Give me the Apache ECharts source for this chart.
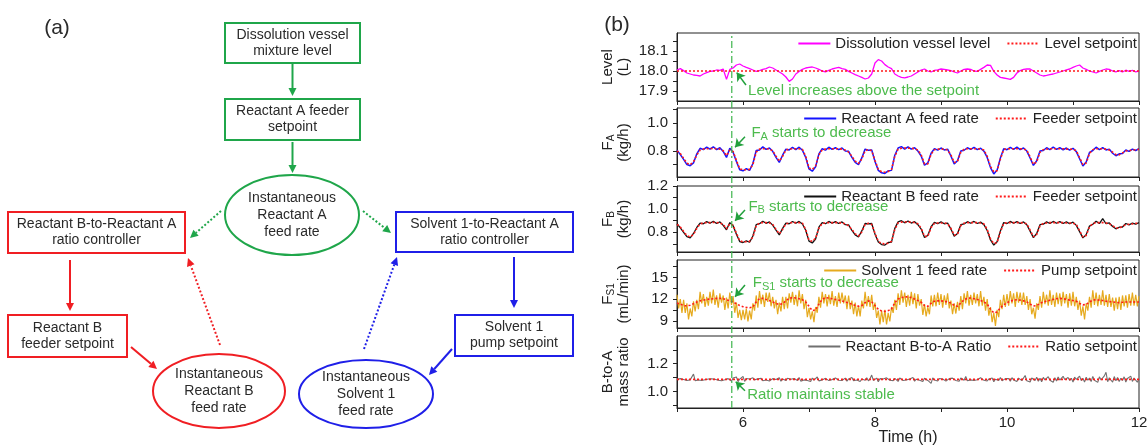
<!DOCTYPE html>
<html>
<head>
<meta charset="utf-8">
<title>Feed control and ratio control</title>
<script src="https://cdn.jsdelivr.net/npm/echarts@6.0.0/dist/echarts.min.js"></script>
<style>
  html, body { margin: 0; padding: 0; background: #fff; }
  #chart { width: 1148px; height: 445px; }
</style>
</head>
<body>
<div id="chart"></div>
<script>
// ---------- data (time in h) ----------
const T0 = 5;
const DT = 0.05;      // most series: one value every 0.05 h
const DT_FINE = 0.025; // the two noisy series

// dissolution vessel level (L)
const levelVals = [
  18.005,18.012,18.002,17.990,17.985,17.980,17.978,17.975,17.985,17.992,
  17.998,18.000,18.005,18.003,18.010,17.958,18.008,18.015,18.030,18.035,
  18.025,18.018,18.012,18.005,17.998,18.002,18.008,18.012,18.020,18.015,
  18.005,17.995,17.985,17.970,17.948,17.960,17.985,17.998,18.008,18.015,
  18.018,18.020,18.015,18.008,18.000,17.996,18.003,18.010,18.014,18.018,
  18.012,18.008,17.998,17.990,17.982,17.975,17.968,17.960,17.965,17.985,
  18.040,18.057,18.050,18.032,18.020,18.012,17.985,17.975,17.968,17.966,
  17.970,17.975,17.985,17.995,18.005,18.010,18.000,17.995,18.003,18.006,
  18.010,18.008,18.005,18.002,17.995,17.990,18.000,18.008,18.010,18.008,
  18.000,17.998,18.008,18.018,18.030,18.028,17.998,17.980,17.968,17.965,
  17.962,17.958,17.968,17.990,18.002,18.008,18.010,18.010,18.000,17.990,
  17.980,17.975,17.978,17.982,17.985,17.990,17.995,18.000,18.006,18.010,
  18.018,18.025,18.030,18.015,18.008,18.000,17.995,17.990,17.998,18.005,
  18.010,18.008,18.000,17.996,18.002,17.995,18.004,17.998,18.003,17.996,
  18.000
];
const levelSetpoint = [[5, 18.0], [12, 18.0]];

// reactant A feed rate (kg/h)
const faVals = [
  0.805,0.772,0.738,0.700,0.692,0.712,0.778,0.818,0.808,0.826,
  0.812,0.829,0.808,0.822,0.795,0.752,0.818,0.790,0.722,0.662,
  0.655,0.670,0.658,0.708,0.802,0.806,0.828,0.810,0.820,0.796,
  0.752,0.716,0.768,0.812,0.806,0.824,0.809,0.826,0.804,0.752,
  0.668,0.652,0.684,0.778,0.815,0.805,0.826,0.810,0.822,0.808,
  0.820,0.798,0.796,0.752,0.716,0.700,0.748,0.812,0.804,0.806,
  0.722,0.658,0.640,0.636,0.655,0.658,0.768,0.820,0.830,0.812,
  0.828,0.812,0.822,0.798,0.762,0.696,0.712,0.782,0.816,0.805,
  0.820,0.806,0.812,0.762,0.705,0.728,0.798,0.804,0.822,0.810,
  0.824,0.808,0.818,0.798,0.752,0.678,0.632,0.660,0.748,0.815,
  0.808,0.824,0.810,0.826,0.808,0.820,0.798,0.748,0.694,0.728,
  0.798,0.802,0.822,0.808,0.826,0.810,0.822,0.806,0.820,0.805,
  0.818,0.794,0.742,0.690,0.718,0.788,0.802,0.826,0.808,0.822,
  0.806,0.812,0.782,0.764,0.778,0.780,0.806,0.796,0.812,0.802,
  0.815
];
const faSetpoint = [
  0.800,0.780,0.745,0.710,0.700,0.720,0.770,0.805,0.812,0.815,
  0.815,0.817,0.815,0.812,0.800,0.765,0.805,0.795,0.730,0.670,
  0.662,0.662,0.665,0.700,0.790,0.812,0.815,0.815,0.812,0.800,
  0.760,0.725,0.760,0.805,0.812,0.815,0.815,0.815,0.810,0.760,
  0.675,0.665,0.690,0.770,0.808,0.812,0.815,0.815,0.815,0.815,
  0.812,0.805,0.790,0.760,0.725,0.708,0.740,0.800,0.810,0.800,
  0.730,0.665,0.648,0.645,0.650,0.665,0.760,0.812,0.818,0.820,
  0.818,0.818,0.815,0.805,0.770,0.705,0.705,0.775,0.808,0.812,
  0.812,0.812,0.805,0.770,0.715,0.722,0.790,0.810,0.815,0.815,
  0.815,0.815,0.812,0.805,0.760,0.685,0.648,0.655,0.740,0.808,
  0.815,0.815,0.815,0.815,0.815,0.812,0.805,0.755,0.702,0.720,
  0.790,0.808,0.812,0.815,0.815,0.815,0.815,0.815,0.812,0.812,
  0.810,0.800,0.750,0.700,0.712,0.780,0.808,0.815,0.815,0.815,
  0.812,0.805,0.790,0.772,0.770,0.785,0.798,0.802,0.805,0.808,
  0.810
];

// reactant B feed rate (kg/h)
const fbVals = [
  0.874,0.838,0.800,0.762,0.752,0.790,0.842,0.880,0.874,0.892,
  0.878,0.895,0.876,0.890,0.860,0.822,0.884,0.856,0.784,0.720,
  0.712,0.726,0.714,0.768,0.866,0.874,0.896,0.878,0.890,0.862,
  0.818,0.778,0.834,0.880,0.874,0.893,0.878,0.894,0.872,0.818,
  0.724,0.708,0.742,0.844,0.884,0.874,0.894,0.878,0.892,0.876,
  0.890,0.866,0.864,0.816,0.778,0.760,0.812,0.876,0.872,0.876,
  0.784,0.716,0.694,0.690,0.712,0.716,0.834,0.890,0.900,0.882,
  0.898,0.880,0.892,0.866,0.828,0.756,0.772,0.848,0.886,0.874,
  0.890,0.874,0.880,0.828,0.766,0.790,0.866,0.872,0.892,0.878,
  0.894,0.876,0.888,0.866,0.816,0.734,0.690,0.718,0.812,0.884,
  0.876,0.894,0.878,0.892,0.876,0.890,0.866,0.810,0.754,0.790,
  0.866,0.870,0.890,0.876,0.894,0.878,0.892,0.876,0.890,0.874,
  0.888,0.860,0.806,0.752,0.780,0.854,0.870,0.896,0.876,0.918,
  0.874,0.882,0.850,0.830,0.844,0.846,0.876,0.864,0.880,0.870,
  0.884
];
const fbSetpoint = [
  0.868,0.846,0.808,0.770,0.760,0.781,0.835,0.873,0.881,0.884,
  0.884,0.886,0.884,0.881,0.868,0.830,0.873,0.862,0.792,0.727,
  0.718,0.718,0.722,0.760,0.857,0.881,0.884,0.884,0.881,0.868,
  0.825,0.787,0.825,0.873,0.881,0.884,0.884,0.884,0.879,0.825,
  0.732,0.722,0.749,0.835,0.877,0.881,0.884,0.884,0.884,0.884,
  0.881,0.873,0.857,0.825,0.787,0.768,0.803,0.868,0.879,0.868,
  0.792,0.722,0.703,0.700,0.705,0.722,0.825,0.881,0.888,0.890,
  0.888,0.888,0.884,0.873,0.835,0.765,0.765,0.841,0.877,0.881,
  0.881,0.881,0.873,0.835,0.776,0.783,0.857,0.879,0.884,0.884,
  0.884,0.884,0.881,0.873,0.825,0.743,0.703,0.711,0.803,0.877,
  0.884,0.884,0.884,0.884,0.884,0.881,0.873,0.819,0.762,0.781,
  0.857,0.877,0.881,0.884,0.884,0.884,0.884,0.884,0.881,0.881,
  0.879,0.868,0.814,0.760,0.773,0.846,0.877,0.884,0.884,0.884,
  0.881,0.873,0.857,0.838,0.835,0.852,0.866,0.870,0.873,0.877,
  0.879
];

// solvent 1 feed rate (mL/min), every 0.025 h
const fs1Vals = [
  12.6,10.7,12.0,10.1,11.9,10.1,11.4,9.2,10.7,9.6,
  11.7,10.3,11.9,10.6,13.0,11.4,12.7,10.9,12.3,11.1,
  13.0,11.4,13.3,11.2,12.5,10.8,12.8,11.5,12.5,10.5,
  12.2,10.7,12.9,11.2,12.4,10.1,11.5,9.4,10.5,9.1,
  10.5,9.2,10.7,8.9,10.4,9.2,11.4,10.4,12.5,10.8,
  13.1,11.3,12.6,10.9,12.9,11.6,12.9,11.0,12.3,10.7,
  11.9,9.9,11.5,10.3,12.3,10.6,12.3,10.7,12.8,11.5,
  13.0,11.2,12.6,11.0,13.2,11.4,12.7,10.6,11.9,9.5,
  10.8,9.2,10.3,8.8,10.9,10.1,12.3,10.8,13.0,11.4,
  12.7,11.0,12.6,11.3,13.1,11.1,12.4,10.9,12.9,11.4,
  12.9,11.4,12.5,10.6,12.5,10.6,11.8,9.9,11.5,9.6,
  11.1,9.6,11.8,10.7,13.0,11.0,12.4,10.9,12.6,10.5,
  11.5,9.4,10.4,8.5,10.4,8.8,10.5,8.5,10.1,8.9,
  10.9,10.1,11.9,10.5,12.8,11.2,13.2,11.5,12.9,10.9,
  12.6,11.1,13.0,11.3,12.8,10.7,12.7,11.1,12.0,9.8,
  11.3,9.6,10.9,9.9,12.5,11.0,12.6,11.0,12.9,11.2,
  12.7,10.8,12.5,11.2,12.8,10.7,11.8,9.9,11.4,10.0,
  11.6,10.4,12.4,10.6,12.8,11.4,13.1,11.1,12.6,11.2,
  12.9,11.4,12.7,11.0,13.1,11.1,12.3,10.4,12.0,9.7,
  10.9,8.8,10.1,8.3,10.5,9.5,11.9,10.6,12.6,10.9,
  12.7,11.1,13.1,11.4,12.8,10.9,13.0,11.5,12.9,11.2,
  12.9,11.2,12.4,10.5,12.0,9.9,10.8,9.3,11.4,10.5,
  12.4,10.8,13.0,11.3,12.6,11.1,13.2,11.2,12.6,10.9,
  12.9,11.3,12.8,11.0,13.0,11.4,12.7,10.8,12.8,11.1,
  13.0,11.0,12.3,10.5,11.8,9.7,11.0,9.2,11.4,10.4,
  12.3,10.8,13.2,11.2,12.9,11.0,12.6,11.2,13.2,11.1,
  12.6,10.9,12.7,10.9,12.2,10.4,12.2,10.6,12.3,10.5,
  12.5,11.0,12.5,10.8,12.7,11.1,12.9,11.1,12.6,11.0,
  12.4
];
const fs1Setpoint = [
  11.45,11.3,11.1,11.05,11.15,11.35,11.6,11.75,11.85,11.95,
  12.0,12.05,12.1,12.1,12.05,11.9,11.75,11.6,11.35,11.1,
  10.95,10.85,10.8,10.9,11.6,12.05,12.1,11.95,11.8,11.6,
  11.4,11.25,11.35,11.75,12.1,12.2,12.15,12.05,11.9,11.6,
  11.0,10.4,10.5,11.3,11.95,12.2,12.15,12.05,11.95,11.85,
  11.75,11.6,11.45,11.3,11.1,11.0,11.1,11.5,11.75,11.6,
  11.1,10.6,10.35,10.3,10.4,10.6,11.5,12.0,12.2,12.3,
  12.3,12.2,12.0,11.8,11.55,11.1,11.0,11.4,11.7,11.75,
  11.75,11.7,11.6,11.45,11.1,11.0,11.45,11.9,12.1,12.15,
  12.05,11.95,11.8,11.6,11.3,10.6,10.1,10.2,10.8,11.2,
  11.5,11.7,11.85,11.9,11.85,11.75,11.6,11.3,11.05,11.1,
  11.4,11.6,11.7,11.85,11.95,12.05,12.1,12.05,11.95,11.85,
  11.8,11.7,11.4,11.2,11.25,11.6,11.85,11.9,11.85,11.8,
  11.7,11.65,11.6,11.55,11.5,11.55,11.6,11.6,11.6,11.6,
  11.6
];

// reactant B-to-A mass ratio, every 0.025 h
const ratioVals = [
  1.088,1.080,1.092,1.078,1.086,1.094,1.079,1.087,1.083,1.091,
  1.125,1.078,1.090,1.082,1.087,1.079,1.093,1.084,1.080,1.089,
  1.083,1.091,1.078,1.088,1.095,1.080,1.086,1.077,1.090,1.084,
  1.079,1.092,1.085,1.074,1.096,1.083,1.104,1.070,1.089,1.081,
  1.108,1.072,1.093,1.080,1.090,1.076,1.098,1.083,1.079,1.091,
  1.084,1.094,1.077,1.089,1.082,1.096,1.075,1.088,1.092,1.079,
  1.086,1.080,1.099,1.073,1.090,1.084,1.078,1.095,1.082,1.088,
  1.077,1.093,1.085,1.079,1.101,1.074,1.088,1.083,1.092,1.078,
  1.090,1.072,1.096,1.081,1.087,1.104,1.076,1.090,1.083,1.079,
  1.094,1.082,1.078,1.091,1.085,1.073,1.097,1.086,1.080,1.092,
  1.079,1.088,1.096,1.074,1.090,1.083,1.100,1.077,1.087,1.082,
  1.093,1.071,1.089,1.085,1.080,1.098,1.076,1.091,1.118,1.079,
  1.087,1.096,1.070,1.092,1.081,1.089,1.075,1.098,1.084,1.080,
  1.091,1.078,1.094,1.083,1.072,1.097,1.085,1.079,1.093,1.082,
  1.076,1.090,1.084,1.101,1.073,1.088,1.094,1.080,1.086,1.071,
  1.095,1.083,1.079,1.092,1.058,1.097,1.082,1.088,1.075,1.093,
  1.081,1.089,1.100,1.074,1.086,1.092,1.078,1.096,1.083,1.079,
  1.090,1.073,1.097,1.085,1.080,1.108,1.077,1.089,1.083,1.094,
  1.078,1.091,1.084,1.072,1.099,1.086,1.080,1.093,1.075,1.090,
  1.083,1.097,1.070,1.088,1.094,1.079,1.101,1.076,1.087,1.092,
  1.080,1.093,1.074,1.099,1.083,1.089,1.072,1.096,1.085,1.078,
  1.092,1.115,1.077,1.090,1.068,1.097,1.084,1.079,1.102,1.073,
  1.094,1.070,1.101,1.083,1.076,1.106,1.080,1.092,1.066,1.099,
  1.075,1.104,1.082,1.068,1.109,1.085,1.073,1.100,1.079,1.095,
  1.068,1.103,1.086,1.074,1.110,1.078,1.095,1.067,1.102,1.081,
  1.096,1.071,1.108,1.080,1.092,1.065,1.105,1.083,1.074,1.112,
  1.138,1.070,1.098,1.082,1.067,1.107,1.076,1.100,1.071,1.094,
  1.079,1.105,1.068,1.093,1.087,1.110,1.072,1.097,1.081,1.066,
  1.090
];
const ratioSetpoint = [[5, 1.087], [12, 1.087]];

// moment the disturbance starts (green dash-dot line)
const eventLine = [[5.83, 0], [5.83, 1]];

// axis ticks and labels
const xTicks = [5, 6, 7, 8, 9, 10, 11, 12];
const xLabels = [6, 8, 10, 12];
const levelTicks = [17.9, 17.95, 18.0, 18.05, 18.1, 18.15];
const levelLabels = [17.9, 18.0, 18.1];
const faTicks = [0.7, 0.8, 0.9, 1.0, 1.1];
const faLabels = [0.8, 1.0];
const fbTicks = [0.7, 0.8, 0.9, 1.0, 1.1, 1.2];
const fbLabels = [0.8, 1.0, 1.2];
const fs1Ticks = [9, 10.5, 12, 13.5, 15, 16.5];
const fs1Labels = [9, 12, 15];
const ratioTicks = [0.9, 1.0, 1.1, 1.2, 1.3];
const ratioLabels = [1.0, 1.2];

// ---------- styling / layout ----------
const FONT = 'Liberation Sans, Arial, Helvetica, sans-serif';
const INK = '#222';
const SP_RED = '#ff1a1a';
const NOTE_GREEN = '#4dbb4d';
const ARROW_GREEN = '#22a03c';

const toPairs = (vals, step) => vals.map((v, i) => [+(T0 + i * step).toFixed(3), v]);

const nameRich = {
  n: { fontSize: 15, color: INK, fontFamily: FONT, lineHeight: 16 },
  s: { fontSize: 10, color: INK, fontFamily: FONT, lineHeight: 10, verticalAlign: 'bottom' }
};
const noteRich = {
  g: { fontSize: 15, color: NOTE_GREEN, fontFamily: FONT, lineHeight: 18 },
  gs: { fontSize: 11, color: NOTE_GREEN, fontFamily: FONT, lineHeight: 11, verticalAlign: 'bottom' }
};

const panels = [
  { top: 33, height: 68, min: 17.85, max: 18.19, ticks: levelTicks, labels: levelLabels, digits: 1,
    name: '{n|Level}\n{n|(L)}', legend: ['Dissolution vessel level', 'Level setpoint'] },
  { top: 108, height: 69, min: 0.61, max: 1.11, ticks: faTicks, labels: faLabels, digits: 1,
    name: '{n|F}{s|A}\n{n|(kg/h)}', legend: ['Reactant A feed rate', 'Feeder setpoint'] },
  { top: 186, height: 66, min: 0.63, max: 1.2, ticks: fbTicks, labels: fbLabels, digits: 1,
    name: '{n|F}{s|B}\n{n|(kg/h)}', legend: ['Reactant B feed rate', 'Feeder setpoint'] },
  { top: 260, height: 68, min: 8, max: 17.4, ticks: fs1Ticks, labels: fs1Labels, digits: 0,
    name: '{n|F}{s|S1}\n{n|(mL/min)}', legend: ['Solvent 1 feed rate', 'Pump setpoint'] },
  { top: 336, height: 72, min: 0.88, max: 1.4, ticks: ratioTicks, labels: ratioLabels, digits: 1,
    name: '{n|B-to-A}\n{n|mass ratio}', legend: ['Reactant B-to-A Ratio', 'Ratio setpoint'] }
];
const PLOT_LEFT = 677;
const PLOT_RIGHT = 9;

// text annotations, in data units of each panel
const notes = [
  { text: '{g|Level increases above the setpoint}', at: [6.07, 17.90], from: [6.045, 17.93], to: [5.905, 17.992] },
  { text: '{g|F}{gs|A}{g| starts to decrease}', at: [6.12, 0.929], from: [6.03, 0.902], to: [5.88, 0.825] },
  { text: '{g|F}{gs|B}{g| starts to decrease}', at: [6.075, 1.021], from: [6.03, 0.993], to: [5.88, 0.90] },
  { text: '{g|F}{gs|S1}{g| starts to decrease}', at: [6.14, 14.18], from: [6.03, 13.94], to: [5.88, 12.33] },
  { text: '{g|Ratio maintains stable}', at: [6.056, 0.974], from: [6.03, 1.005], to: [5.89, 1.07] }
];

function line(name, gi, data, color, width, dotted, z) {
  return {
    name: name, type: 'line', xAxisIndex: gi, yAxisIndex: gi, data: data,
    symbol: 'none', showSymbol: false, sampling: null, z: z || 2,
    lineStyle: { color: color, width: width, type: dotted ? [2, 2] : 'solid' },
    itemStyle: { color: color },
    emphasis: { disabled: true }, silent: true
  };
}

function withNote(s, n) {
  s.markLine = {
    silent: true, symbol: ['none', 'arrow'], symbolSize: 8, animation: false,
    label: { show: false },
    lineStyle: { color: ARROW_GREEN, width: 1.5, type: 'solid' },
    emphasis: { disabled: true },
    data: [[{ coord: n.from }, { coord: n.to }]]
  };
  s.markPoint = {
    silent: true, animation: false,
    data: [{ coord: n.at, symbol: 'circle', symbolSize: 1, itemStyle: { color: 'rgba(0,0,0,0)' } }],
    label: { show: true, position: 'right', distance: 0, formatter: n.text, rich: noteRich }
  };
  return s;
}

const series = [
  line('Dissolution vessel level', 0, toPairs(levelVals, DT), '#ff00ff', 1.3),
  withNote(line('Level setpoint', 0, levelSetpoint, SP_RED, 1.6, true, 3), notes[0]),
  line('Reactant A feed rate', 1, toPairs(faVals, DT), '#1414ff', 1.5),
  withNote(line('Feeder setpoint', 1, toPairs(faSetpoint, DT), SP_RED, 1.6, true, 3), notes[1]),
  line('Reactant B feed rate', 2, toPairs(fbVals, DT), '#111', 1.3),
  withNote(line('Feeder setpoint', 2, toPairs(fbSetpoint, DT), SP_RED, 1.6, true, 3), notes[2]),
  line('Solvent 1 feed rate', 3, toPairs(fs1Vals, DT_FINE), '#e6aa1e', 1.2),
  withNote(line('Pump setpoint', 3, toPairs(fs1Setpoint, DT), SP_RED, 1.6, true, 3), notes[3]),
  line('Reactant B-to-A Ratio', 4, toPairs(ratioVals, DT_FINE), '#707070', 1.1),
  withNote(line('Ratio setpoint', 4, ratioSetpoint, SP_RED, 1.6, true, 3), notes[4]),
  {
    type: 'line', xAxisIndex: 5, yAxisIndex: 5, data: eventLine, symbol: 'none', silent: true, z: 4,
    lineStyle: { color: '#3cb44b', width: 1.2, type: [7, 3, 2, 3] }
  }
];

const grids = panels.map(p => ({
  left: PLOT_LEFT, right: PLOT_RIGHT, top: p.top, height: p.height,
  show: true, borderColor: INK, borderWidth: 1, backgroundColor: 'transparent',
  containLabel: false, outerBoundsMode: 'none'
}));
grids.push({ left: PLOT_LEFT, right: PLOT_RIGHT, top: 33, height: 375, show: false, containLabel: false, outerBoundsMode: 'none' });

const xAxes = panels.map((p, i) => ({
  gridIndex: i, type: 'value', min: 5, max: 12,
  axisLine: { show: true, onZero: false, lineStyle: { color: INK, width: 1 } },
  axisTick: { show: true, inside: false, length: 4, customValues: xTicks, lineStyle: { color: INK } },
  axisLabel: { show: i === 4, customValues: xLabels, fontSize: 15, color: INK, fontFamily: FONT, margin: 7 },
  splitLine: { show: false },
  name: i === 4 ? 'Time (h)' : '', nameLocation: 'middle', nameGap: 22, nameMoveOverlap: false,
  nameTextStyle: { fontSize: 16, color: INK, fontFamily: FONT }
}));
xAxes.push({ gridIndex: 5, type: 'value', min: 5, max: 12, show: false });

const yAxes = panels.map((p, i) => ({
  gridIndex: i, type: 'value', min: p.min, max: p.max,
  axisLine: { show: true, onZero: false, lineStyle: { color: INK, width: 1 } },
  axisTick: { show: true, inside: false, length: 4, customValues: p.ticks, lineStyle: { color: INK } },
  axisLabel: {
    customValues: p.labels, fontSize: 15, color: INK, fontFamily: FONT, margin: 9,
    formatter: v => Number(v).toFixed(p.digits)
  },
  splitLine: { show: false },
  name: p.name, nameLocation: 'middle', nameRotate: 90, nameGap: 45, nameMoveOverlap: false,
  nameTextStyle: { rich: nameRich }
}));
yAxes.push({ gridIndex: 5, type: 'value', min: 0, max: 1, show: false });

// legend: plain line keys, no marker dot
const legends = panels.map(p => ({
  top: p.top + 3, right: 11, padding: 0, itemGap: 16, itemWidth: 32, itemHeight: 12,
  selectedMode: false, data: p.legend,
  itemStyle: { color: 'rgba(0,0,0,0)', borderColor: 'rgba(0,0,0,0)', borderWidth: 0, opacity: 0 },
  textStyle: { fontSize: 15, color: INK, fontFamily: FONT }
}));

// ---------- panel (a): control scheme ----------
const GREEN = '#1fa64a', RED = '#f01e23', BLUE = '#1f1fe8';
const flowNodes = [
  { shape: 'rect', x: 225, y: 23, w: 135, h: 40, color: GREEN, text: 'Dissolution vessel\nmixture level' },
  { shape: 'rect', x: 225, y: 99, w: 135, h: 41, color: GREEN, text: 'Reactant A feeder\nsetpoint' },
  { shape: 'ellipse', cx: 292, cy: 215, rx: 67, ry: 40, color: GREEN, text: 'Instantaneous\nReactant A\nfeed rate' },
  { shape: 'rect', x: 8, y: 212, w: 177, h: 41, color: RED, text: 'Reactant B-to-Reactant A\nratio controller' },
  { shape: 'rect', x: 8, y: 315, w: 119, h: 42, color: RED, text: 'Reactant B\nfeeder setpoint' },
  { shape: 'ellipse', cx: 219, cy: 391, rx: 66, ry: 37, color: RED, text: 'Instantaneous\nReactant B\nfeed rate' },
  { shape: 'rect', x: 396, y: 212, w: 177, h: 40, color: BLUE, text: 'Solvent 1-to-Reactant A\nratio controller' },
  { shape: 'rect', x: 455, y: 315, w: 118, h: 41, color: BLUE, text: 'Solvent 1\npump setpoint' },
  { shape: 'ellipse', cx: 366, cy: 394, rx: 67, ry: 34, color: BLUE, text: 'Instantaneous\nSolvent 1\nfeed rate' }
];
const flowArrows = [
  { from: [292.5, 64], to: [292.5, 96], color: GREEN },
  { from: [292.5, 142], to: [292.5, 173], color: GREEN },
  { from: [221, 211], to: [190, 238], color: GREEN, dotted: true },
  { from: [363, 211], to: [391, 233], color: GREEN, dotted: true },
  { from: [70, 260], to: [70, 311], color: RED },
  { from: [131, 347], to: [157, 369], color: RED },
  { from: [220, 345], to: [188, 258], color: RED, dotted: true },
  { from: [514, 257], to: [514, 308], color: BLUE },
  { from: [452, 349], to: [429, 375], color: BLUE },
  { from: [364, 349], to: [397, 257], color: BLUE, dotted: true }
];

function textEl(x, y, text, size, lh) {
  return {
    type: 'text', x: x, y: y, silent: true,
    style: {
      text: text, fill: '#2a2a2a', fontSize: size, fontFamily: FONT, lineHeight: lh,
      align: 'center', verticalAlign: 'middle', textAlign: 'center', textVerticalAlign: 'middle'
    }
  };
}

const graphics = [];
flowNodes.forEach(n => {
  if (n.shape === 'rect') {
    graphics.push({ type: 'rect', silent: true, shape: { x: n.x, y: n.y, width: n.w, height: n.h },
      style: { fill: '#fff', stroke: n.color, lineWidth: 2 } });
    graphics.push(textEl(n.x + n.w / 2, n.y + n.h / 2, n.text, 14, 16));
  } else {
    graphics.push({ type: 'ellipse', silent: true, shape: { cx: n.cx, cy: n.cy, rx: n.rx, ry: n.ry },
      style: { fill: '#fff', stroke: n.color, lineWidth: 2 } });
    graphics.push(textEl(n.cx, n.cy, n.text, 14, 17));
  }
});
flowArrows.forEach(a => {
  const [x1, y1] = a.from, [x2, y2] = a.to;
  const ang = Math.atan2(y2 - y1, x2 - x1);
  const L = 8, W = 4;
  const bx = x2 - L * Math.cos(ang), by = y2 - L * Math.sin(ang);
  const px = -Math.sin(ang) * W, py = Math.cos(ang) * W;
  graphics.push({ type: 'line', silent: true, shape: { x1: x1, y1: y1, x2: bx, y2: by },
    style: { stroke: a.color, lineWidth: 2, lineDash: a.dotted ? [2, 2] : null } });
  graphics.push({ type: 'polygon', silent: true, shape: { points: [[x2, y2], [bx + px, by + py], [bx - px, by - py]] },
    style: { fill: a.color } });
});
graphics.push(textEl(57, 28, '(a)', 21, 22));
graphics.push(textEl(617, 25, '(b)', 21, 22));

const option = {
  backgroundColor: '#fff',
  animation: false,
  textStyle: { fontFamily: FONT },
  grid: grids,
  xAxis: xAxes,
  yAxis: yAxes,
  legend: legends,
  series: series,
  graphic: { elements: graphics }
};

const chart = echarts.init(document.getElementById('chart'), null, { renderer: 'canvas' });
chart.setOption(option);
</script>
</body>
</html>
